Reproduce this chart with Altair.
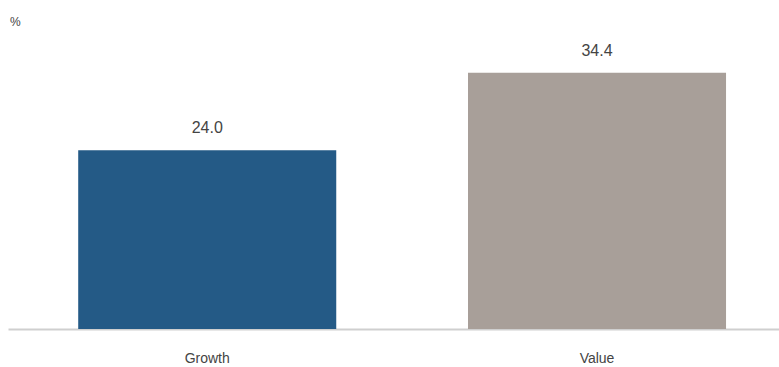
import altair as alt
import pandas as pd

categories = ["Growth", "Value"]
values = [24.0, 34.4]
colors = ["#245A86", "#A89F99"]

df = pd.DataFrame({"cat": categories, "val": values, "color": colors})

x = alt.X("cat:N", sort=categories, title=None,
          scale=alt.Scale(paddingInner=0.338, paddingOuter=0.158, align=0.57),
          axis=alt.Axis(labelAngle=0, labelFont="Liberation Sans", labelFontSize=14,
                        labelColor="#444444", ticks=False, domainColor="#cfcfcf",
                        domainWidth=2, labelPadding=22))
y = alt.Y("val:Q", scale=alt.Scale(domain=[0, 40], nice=False), axis=None)

bars = alt.Chart(df).mark_bar().encode(
    x=x, y=y, color=alt.Color("color:N", scale=None)
)
labels = alt.Chart(df).mark_text(dy=-14, fontSize=16, font="Liberation Sans",
                                 color="#444444", baseline="bottom").encode(
    x=alt.X("cat:N", sort=categories), y="val:Q", text=alt.Text("val:Q", format=".1f")
)

chart = alt.layer(bars, labels).properties(
    width=771, height=298,
    autosize=alt.AutoSizeParams(type="none"),
    padding={"left": 8, "top": 31, "right": 0, "bottom": 38},
    title=alt.TitleParams("%", anchor="start", fontSize=12, font="Liberation Sans",
                          fontWeight="normal", color="#444444", offset=2, dx=2),
).configure_view(stroke=None).configure_axis(grid=False)

chart.save("out.html", embed_options={"renderer": "svg", "actions": False})
